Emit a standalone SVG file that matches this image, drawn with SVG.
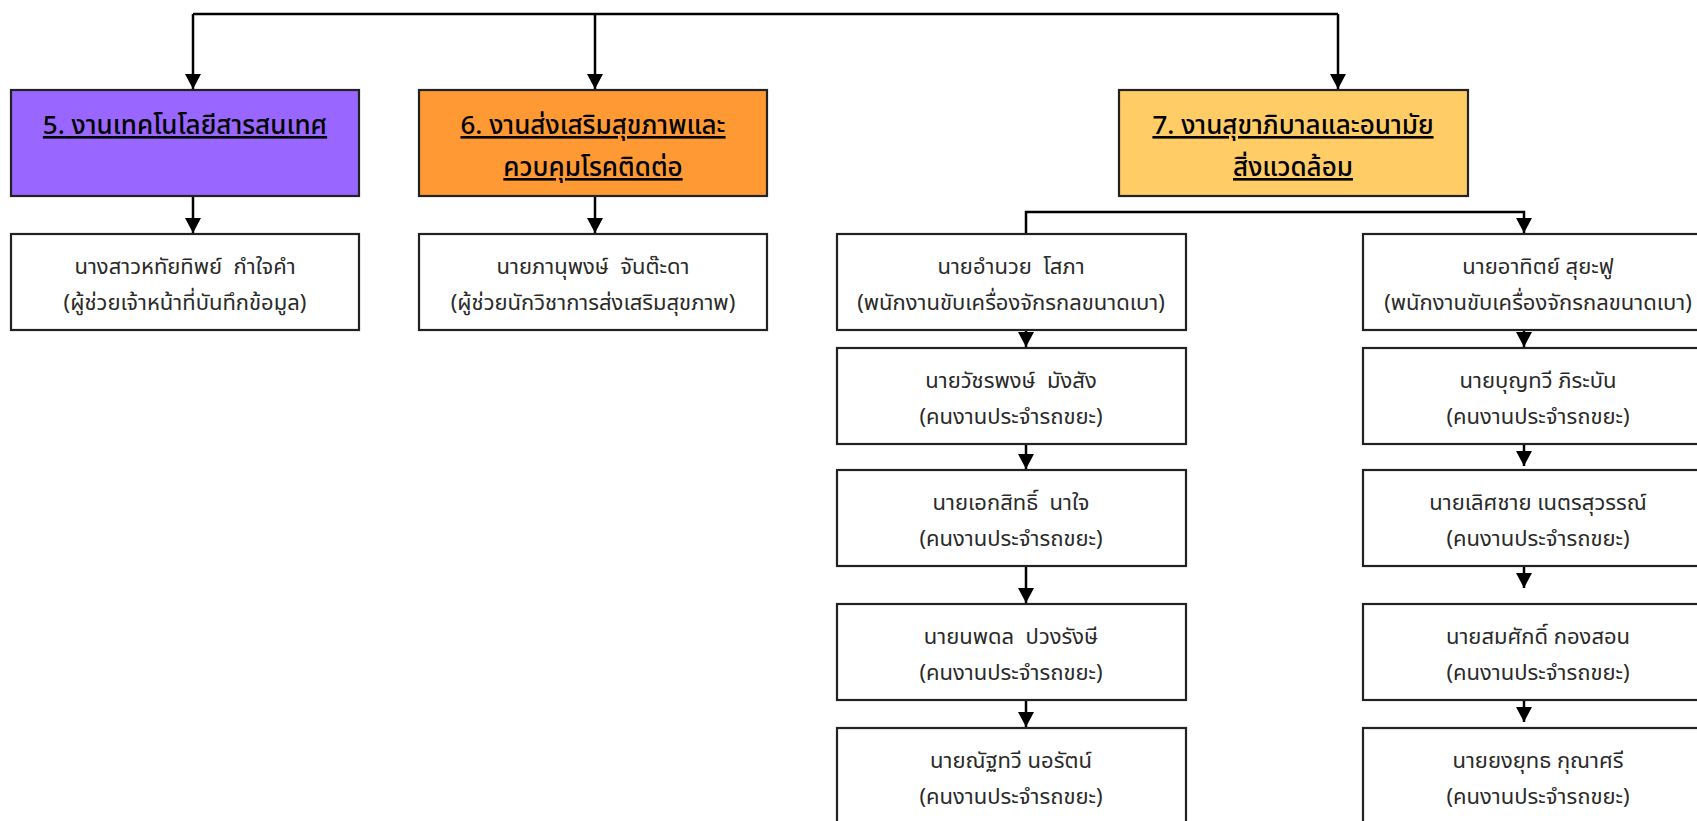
<svg xmlns="http://www.w3.org/2000/svg" width="1697" height="821" viewBox="0 0 1697 821">
<defs>
<marker id="ah" viewBox="0 0 15 16" markerWidth="15" markerHeight="16" refX="15" refY="8" orient="auto" markerUnits="userSpaceOnUse">
<path d="M0 0 L15 8 L0 16 Z" fill="#000"/>
</marker>
<style>
.box{stroke:#222;stroke-width:2.2}
.w{fill:#fff}
.t{font-family:"Noto Sans Thai","Noto Sans","DejaVu Sans",sans-serif;text-anchor:middle;white-space:pre}
.h{font-size:26px;font-weight:500;fill:#000;text-decoration:underline}
.p{font-size:22px;fill:#2a2a2a}
.c{fill:none;stroke:#000;stroke-width:2.5}
</style>
</defs>
<rect width="1697" height="821" fill="#fff"/>
<g id="connectors">
<path class="c" d="M193 14 H1338"/>
<path class="c" d="M193 14 V89" marker-end="url(#ah)"/>
<path class="c" d="M595 14 V89" marker-end="url(#ah)"/>
<path class="c" d="M1338 14 V89" marker-end="url(#ah)"/>
<path class="c" d="M193 196 V233" marker-end="url(#ah)"/>
<path class="c" d="M595 196 V233" marker-end="url(#ah)"/>
<path class="c" d="M1026 233 V212 H1524 V233" marker-end="url(#ah)"/>
<path class="c" d="M1026 330 V347" marker-end="url(#ah)"/>
<path class="c" d="M1026 444 V469" marker-end="url(#ah)"/>
<path class="c" d="M1026 566 V603" marker-end="url(#ah)"/>
<path class="c" d="M1026 700 V727" marker-end="url(#ah)"/>
<path class="c" d="M1524 330 V347" marker-end="url(#ah)"/>
<path class="c" d="M1524 444 V466" marker-end="url(#ah)"/>
<path class="c" d="M1524 566 V588" marker-end="url(#ah)"/>
<path class="c" d="M1524 700 V722" marker-end="url(#ah)"/>
</g>
<g id="n5">
<rect class="box" x="11" y="90" width="348" height="106" fill="#9966FF"/>
<text class="t h" x="185" y="134">5. งานเทคโนโลยีสารสนเทศ</text>
</g>
<g id="n6">
<rect class="box" x="419" y="90" width="348" height="106" fill="#FF9933"/>
<text class="t h" x="593" y="134">6. งานส่งเสริมสุขภาพและ</text>
<text class="t h" x="593" y="176">ควบคุมโรคติดต่อ</text>
</g>
<g id="n7">
<rect class="box" x="1119" y="90" width="349" height="106" fill="#FFCC66"/>
<text class="t h" x="1293" y="134">7. งานสุขาภิบาลและอนามัย</text>
<text class="t h" x="1293" y="176">สิ่งแวดล้อม</text>
</g>
<g id="c5">
<rect class="box w" x="11" y="234" width="348" height="96"/>
<text class="t p" x="185" y="274">นางสาวหทัยทิพย์  กำใจคำ</text>
<text class="t p" x="185" y="310">(ผู้ช่วยเจ้าหน้าที่บันทึกข้อมูล)</text>
</g>
<g id="c6">
<rect class="box w" x="419" y="234" width="348" height="96"/>
<text class="t p" x="593" y="274">นายภานุพงษ์  จันต๊ะดา</text>
<text class="t p" x="593" y="310">(ผู้ช่วยนักวิชาการส่งเสริมสุขภาพ)</text>
</g>
<g id="l1">
<rect class="box w" x="837" y="234" width="349" height="96"/>
<text class="t p" x="1011" y="274">นายอำนวย  โสภา</text>
<text class="t p" x="1011" y="310">(พนักงานขับเครื่องจักรกลขนาดเบา)</text>
</g>
<g id="l2">
<rect class="box w" x="837" y="348" width="349" height="96"/>
<text class="t p" x="1011" y="388">นายวัชรพงษ์  มังสัง</text>
<text class="t p" x="1011" y="424">(คนงานประจำรถขยะ)</text>
</g>
<g id="l3">
<rect class="box w" x="837" y="470" width="349" height="96"/>
<text class="t p" x="1011" y="510">นายเอกสิทธิ์  นาใจ</text>
<text class="t p" x="1011" y="546">(คนงานประจำรถขยะ)</text>
</g>
<g id="l4">
<rect class="box w" x="837" y="604" width="349" height="96"/>
<text class="t p" x="1011" y="644">นายนพดล  ปวงรังษี</text>
<text class="t p" x="1011" y="680">(คนงานประจำรถขยะ)</text>
</g>
<g id="l5">
<rect class="box w" x="837" y="728" width="349" height="100"/>
<text class="t p" x="1011" y="768">นายณัฐทวี นอรัตน์</text>
<text class="t p" x="1011" y="804">(คนงานประจำรถขยะ)</text>
</g>
<g id="r1">
<rect class="box w" x="1363" y="234" width="360" height="96"/>
<text class="t p" x="1538" y="274">นายอาทิตย์ สุยะฟู</text>
<text class="t p" x="1538" y="310">(พนักงานขับเครื่องจักรกลขนาดเบา)</text>
</g>
<g id="r2">
<rect class="box w" x="1363" y="348" width="360" height="96"/>
<text class="t p" x="1538" y="388">นายบุญทวี ภิระบัน</text>
<text class="t p" x="1538" y="424">(คนงานประจำรถขยะ)</text>
</g>
<g id="r3">
<rect class="box w" x="1363" y="470" width="360" height="96"/>
<text class="t p" x="1538" y="510">นายเลิศชาย เนตรสุวรรณ์</text>
<text class="t p" x="1538" y="546">(คนงานประจำรถขยะ)</text>
</g>
<g id="r4">
<rect class="box w" x="1363" y="604" width="360" height="96"/>
<text class="t p" x="1538" y="644">นายสมศักดิ์ กองสอน</text>
<text class="t p" x="1538" y="680">(คนงานประจำรถขยะ)</text>
</g>
<g id="r5">
<rect class="box w" x="1363" y="728" width="360" height="100"/>
<text class="t p" x="1538" y="768">นายยงยุทธ กุณาศรี</text>
<text class="t p" x="1538" y="804">(คนงานประจำรถขยะ)</text>
</g>
</svg>
